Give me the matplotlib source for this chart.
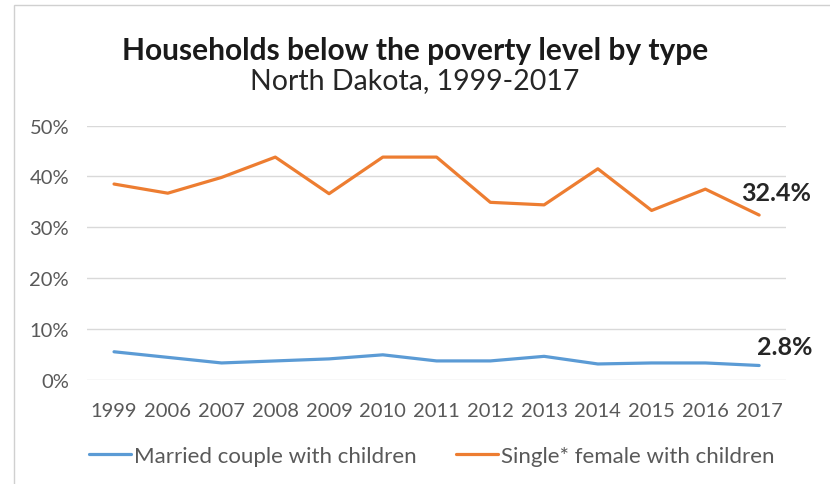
import matplotlib
matplotlib.use("Agg")
import matplotlib.pyplot as plt
from matplotlib.patches import Rectangle

plt.rcParams["font.family"] = ["Lato", "DejaVu Sans"]

years = ["1999", "2006", "2007", "2008", "2009", "2010", "2011",
         "2012", "2013", "2014", "2015", "2016", "2017"]
married = [5.5, 4.4, 3.3, 3.7, 4.1, 4.9, 3.7, 3.7, 4.6, 3.1, 3.3, 3.3, 2.8]
single_female = [38.5, 36.7, 39.8, 43.8, 36.6, 43.8, 43.8, 34.9, 34.4, 41.5, 33.3, 37.5, 32.4]
yticks = [0, 10, 20, 30, 40, 50]

BLUE = "#5B9BD5"
ORANGE = "#ED7D31"
GRID = "#D9D9D9"
TXT = "#595959"

fig = plt.figure(figsize=(8.3, 4.85), dpi=100)
ax = fig.add_axes([0.105, 0.215, 0.842, 0.524])

x = list(range(len(years)))
ax.plot(x, married, color=BLUE, lw=2.3, label="Married couple with children", solid_capstyle="round")
ax.plot(x, single_female, color=ORANGE, lw=2.3, label="Single* female with children", solid_capstyle="round")

ax.set_xlim(-0.5, len(years) - 0.5)
ax.set_ylim(0, 50)
ax.set_yticks(yticks)
ax.set_yticklabels([f"{v}%" for v in yticks])
ax.set_xticks(x)
ax.set_xticklabels(years)
ax.tick_params(length=0, labelsize=14.5, colors=TXT)
ax.tick_params(axis="x", pad=16)
ax.tick_params(axis="y", pad=13)
ax.grid(axis="y", color=GRID, lw=1)
ax.set_axisbelow(True)
for s in ax.spines.values():
    s.set_visible(False)

ax.annotate(f"{single_female[-1]}%", (x[-1], single_female[-1]), xytext=(-13, 16),
            textcoords="offset points", va="center", fontsize=18, fontweight="bold", color="#262626")
ax.annotate(f"{married[-1]}%", (x[-1], married[-1]), xytext=(-1.5, 14),
            textcoords="offset points", va="center", fontsize=18, fontweight="bold", color="#262626")

fig.text(0.5, 0.895, "Households below the poverty level by type", ha="center", va="center",
         fontsize=21.5, fontweight="bold", color="#1a1a1a")
fig.text(0.5, 0.832, "North Dakota, 1999-2017", ha="center", va="center",
         fontsize=20.5, color="#262626")

fig.legend(loc="center", bbox_to_anchor=(0.52, 0.058), ncol=2, frameon=False,
           fontsize=16, handlelength=1.9, handletextpad=0.1, columnspacing=1.8,
           labelcolor=TXT)

fig.patches.append(Rectangle((14 / 830, -0.1), 1.2, 1.1 - 6 / 485, transform=fig.transFigure,
                             fill=False, edgecolor="#D0D0D0", lw=1))

fig.savefig("out.png", dpi=100)
